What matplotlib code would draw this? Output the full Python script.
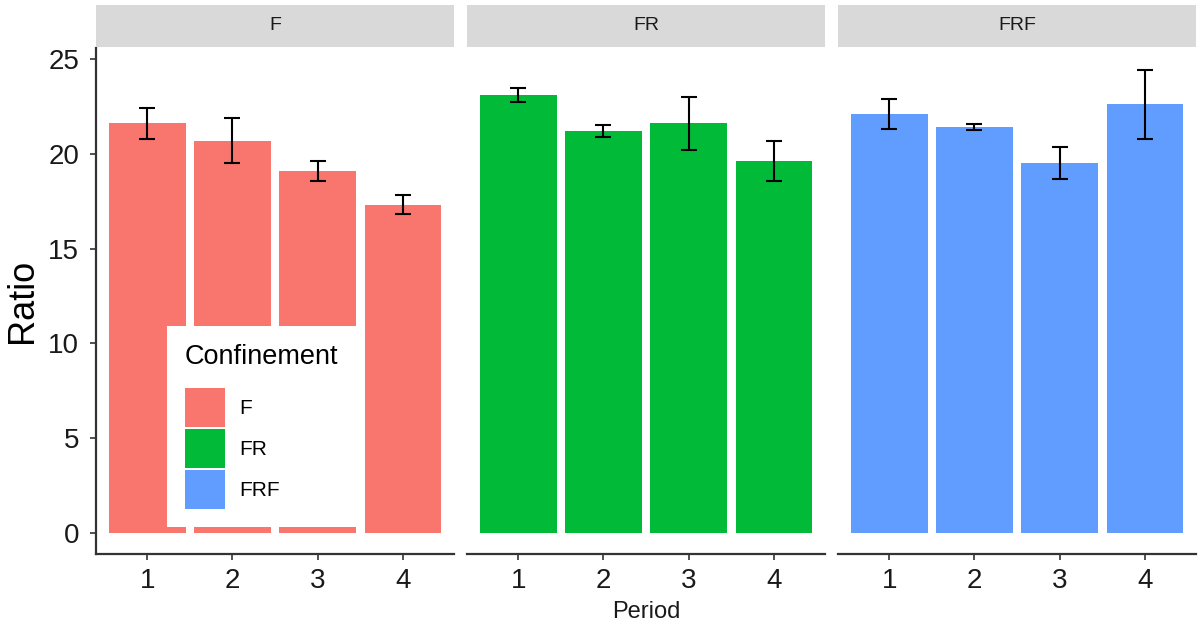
import matplotlib.pyplot as plt
from matplotlib.patches import Patch

plt.rcParams['font.family'] = ['Liberation Sans', 'DejaVu Sans']

# mean ratio and error half-width per period, one list per confinement
periods = [1, 2, 3, 4]
groups = ["F", "FR", "FRF"]
ratio_f = [21.6, 20.7, 19.1, 17.3]
err_f = [0.8, 1.2, 0.53, 0.5]
ratio_fr = [23.1, 21.2, 21.6, 19.6]
err_fr = [0.35, 0.33, 1.4, 1.05]
ratio_frf = [22.1, 21.4, 19.5, 22.6]
err_frf = [0.78, 0.16, 0.85, 1.8]
colors = ["#F8766D", "#00BA38", "#619CFF"]

ratios = [ratio_f, ratio_fr, ratio_frf]
errors = [err_f, err_fr, err_frf]

W, H = 1198, 628
fig = plt.figure(figsize=(W / 100, H / 100), dpi=100)

panel_left = [96, 467, 838]
panel_w = 358
ax_top, ax_bot = 48, 554
strip_top, strip_bot = 5, 47

axes = []
for i, g in enumerate(groups):
    x0 = panel_left[i] / W
    ax = fig.add_axes([x0, (H - ax_bot) / H, panel_w / W, (ax_bot - ax_top) / H])
    ax.bar(periods, ratios[i], width=0.9, color=colors[i], zorder=1)
    ax.errorbar(periods, ratios[i], yerr=errors[i], fmt="none", ecolor="black",
                elinewidth=1.5, capsize=6, capthick=1.5, zorder=2)
    ax.set_xlim(0.4, 4.6)
    ax.set_ylim(-1.11, 25.58)
    ax.set_xticks(periods)
    ax.set_yticks([0, 5, 10, 15, 20, 25])
    for s in ["top", "right"]:
        ax.spines[s].set_visible(False)
    ax.spines["bottom"].set_color("#333333")
    ax.spines["bottom"].set_linewidth(1.6)
    ax.spines["left"].set_color("#333333")
    ax.spines["left"].set_linewidth(1.6)
    ax.tick_params(axis="both", colors="#333333", length=4, width=1.2,
                   labelsize=20, labelcolor="#1a1a1a")
    ax.tick_params(axis="x", pad=6)
    ax.tick_params(axis="y", pad=8)
    if i > 0:
        ax.spines["left"].set_visible(False)
        ax.tick_params(axis="y", left=False, labelleft=False)

    # facet strip
    sax = fig.add_axes([x0, (H - strip_bot) / H, panel_w / W,
                        (strip_bot - strip_top) / H])
    sax.set_facecolor("#D9D9D9")
    sax.set_xticks([])
    sax.set_yticks([])
    for s in sax.spines.values():
        s.set_visible(False)
    sax.text(0.5, 0.5, g, ha="center", va="center", fontsize=14,
             color="#1a1a1a", transform=sax.transAxes)
    axes.append(ax)

axes[0].set_ylabel("Ratio", fontsize=26, labelpad=6)
fig.text((467 + 358 / 2) / W, (H - 612) / H, "Period", ha="center", va="center",
         fontsize=17, color="#1a1a1a")

handles = [Patch(facecolor=c, edgecolor="none") for c in colors]
leg = axes[0].legend(handles, groups, title="Confinement", loc="lower left",
                     bbox_to_anchor=(167 / W, (H - 527) / H), bbox_transform=fig.transFigure,
                     frameon=True, fancybox=False, framealpha=1, edgecolor="white",
                     fontsize=15, title_fontsize=19.5, handlelength=1.92, handleheight=2.5,
                     handletextpad=0.7, labelspacing=0.1, borderpad=0.85,
                     borderaxespad=0, alignment="left")
leg.get_frame().set_linewidth(0)
leg._legend_box.sep = 13

fig.savefig("out.png", dpi=100)
